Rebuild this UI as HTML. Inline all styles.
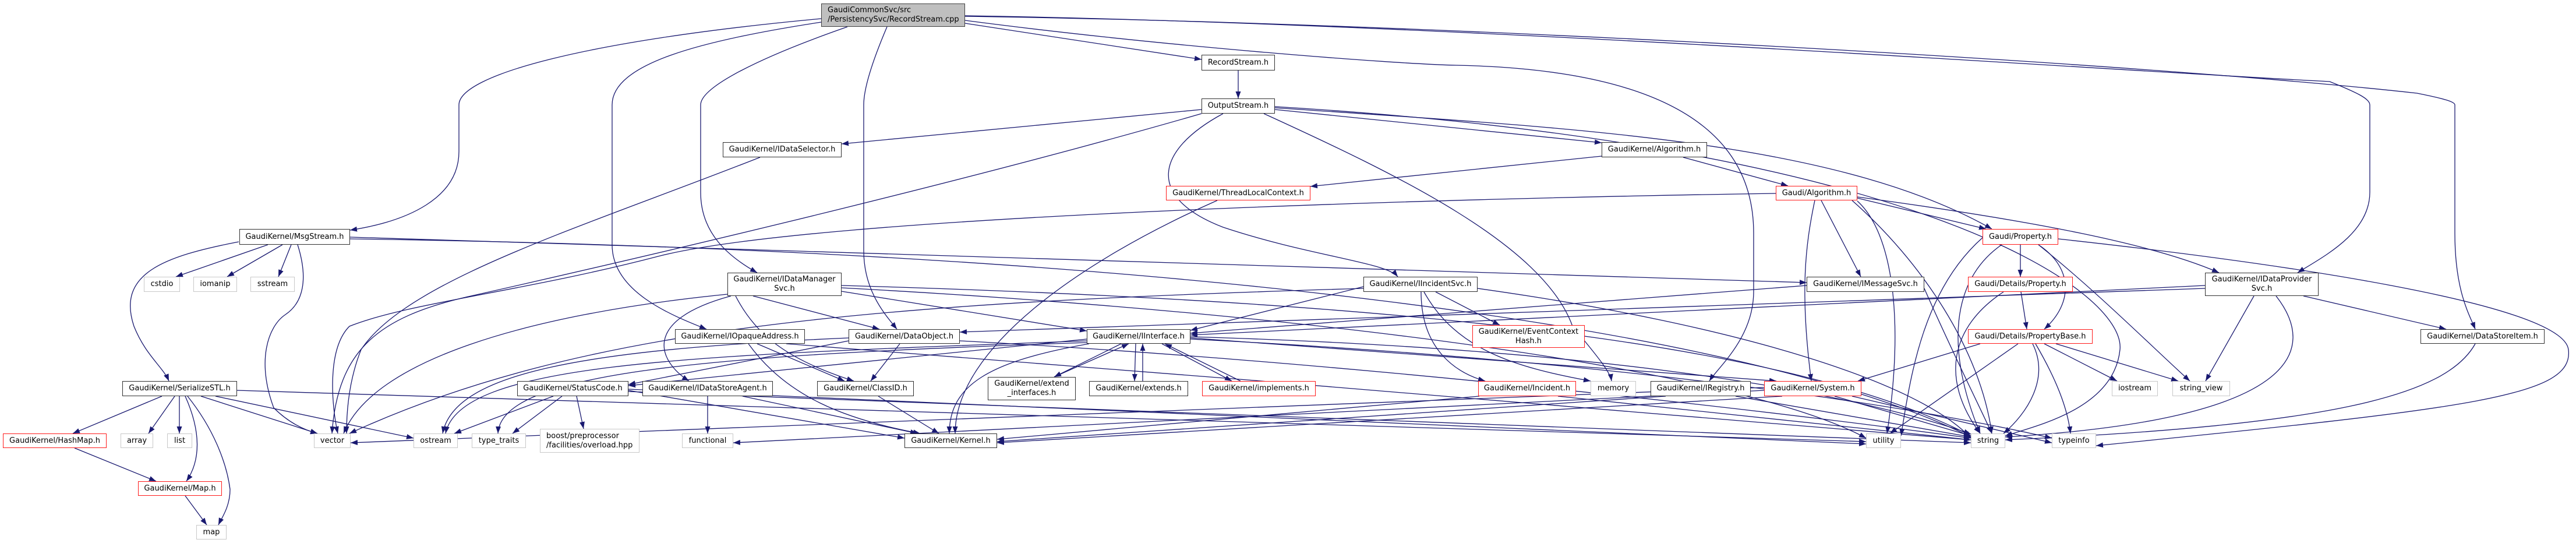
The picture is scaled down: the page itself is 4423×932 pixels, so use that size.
<!DOCTYPE html>
<html><head><meta charset="utf-8"><style>
html,body{margin:0;padding:0;background:#fff;}
#c{position:relative;width:4423px;height:932px;overflow:hidden;background:#fff;}
svg{position:absolute;left:0;top:0;}
.n{position:absolute;box-sizing:border-box;background:#fff;font-family:"DejaVu Sans","Liberation Sans",sans-serif;font-size:13px;color:#000;text-align:center;line-height:16px;display:flex;align-items:center;justify-content:center;white-space:nowrap;}
.b{border:1.5px solid #303030;}
.r{border:1.5px solid #ff1a1a;}
.g{border:1.5px solid #c8c8c8;}
.t{background:#bfbfbf;border:1.5px solid #404040;text-align:left;justify-content:flex-start;padding-left:10px;}
</style></head><body><div id="c">
<svg width="4423" height="932" viewBox="0 0 4423 932">
<defs><marker id="a" markerWidth="12" markerHeight="9" refX="12" refY="4.5" orient="auto" markerUnits="userSpaceOnUse"><path d="M0,0 L12,4.5 L0,9z" fill="#191970"/></marker></defs>
<g fill="none" stroke="#191970" stroke-width="1.3" marker-end="url(#a)">
<path d="M1657,40 L2063,102"/>
<path d="M1410,32 C1000,70 788,130 788,180 L788,260 C788,340 700,380 601,395"/>
<path d="M1410,38 C1200,70 1051,110 1051,180 L1051,420 C1051,500 1150,540 1213,565"/>
<path d="M1455,46 C1300,100 1203,150 1203,180 L1203,330 C1203,400 1250,440 1300,468"/>
<path d="M1523,46 C1500,100 1483,150 1483,180 L1483,430 C1483,500 1520,540 1540,565"/>
<path d="M1657,35 C2000,80 2400,110 2500,112 C2900,120 3011,250 3011,400 L3011,500 C3011,580 2950,630 2935,654"/>
<path d="M1657,27 C2500,40 3600,120 4000,140 C4050,160 4069,170 4069,180 L4069,330 C4069,400 3990,440 3945,468"/>
<path d="M1657,28 C2500,40 3700,110 4150,160 C4200,170 4215,175 4215,180 L4215,400 C4215,500 4240,540 4250,565"/>
<path d="M2126,121 L2126,169"/>
<path d="M2063,188 L1445,247"/>
<path d="M2063,195 C1700,300 1200,420 800,510 C650,545 580,600 570,744"/>
<path d="M2100,195 C1980,260 1970,340 2100,390 C2250,440 2380,450 2400,475"/>
<path d="M2189,188 L2750,245"/>
<path d="M2170,195 C2400,300 2650,420 2700,560 C2750,620 2765,640 2767,654"/>
<path d="M2189,185 C2700,220 3150,240 3420,393"/>
<path d="M2189,183 C3300,250 3650,500 3640,600 C3630,700 3500,730 3443,748"/>
<path d="M2750,268 L2250,320"/>
<path d="M2890,270 L3070,319"/>
<path d="M3189,340 L3410,393"/>
<path d="M3127,344 L3195,475"/>
<path d="M3116,344 C3100,420 3090,500 3110,654"/>
<path d="M3189,338 C3500,380 3700,420 3810,468"/>
<path d="M3049,332 C2500,340 1400,370 1130,440 C900,500 700,520 600,560 C560,600 570,700 580,744"/>
<path d="M3189,345 C3250,400 3270,550 3240,744"/>
<path d="M3180,344 C3300,450 3400,600 3420,744"/>
<path d="M2090,344 C1850,450 1640,600 1640,744"/>
<path d="M1305,270 C1000,390 700,480 620,600 C600,650 595,700 595,744"/>
<path d="M460,420 L302,475"/>
<path d="M485,420 L390,475"/>
<path d="M500,420 L478,475"/>
<path d="M410,415 C280,440 200,470 230,560 C250,610 280,630 290,654"/>
<path d="M511,420 C530,480 520,520 490,540 C460,560 440,620 470,700 C500,730 530,740 545,744"/>
<path d="M601,407 L3102,485"/>
<path d="M601,410 C2000,430 3000,560 3384,750"/>
<path d="M278,680 L125,744"/>
<path d="M300,680 L255,744"/>
<path d="M308,680 L308,744"/>
<path d="M318,680 C345,740 345,790 320,826"/>
<path d="M322,680 C370,740 390,800 395,840 C395,870 380,890 375,901"/>
<path d="M345,680 L545,744"/>
<path d="M370,680 L710,752"/>
<path d="M407,670 L3204,758"/>
<path d="M128,769 L268,826"/>
<path d="M318,851 L355,901"/>
<path d="M1293,508 L1510,565"/>
<path d="M1263,508 C1300,580 1360,620 1466,654"/>
<path d="M1445,500 L1866,568"/>
<path d="M1255,508 C1100,550 1130,620 1183,654"/>
<path d="M1445,490 C2500,520 3100,600 3384,748"/>
<path d="M1249,505 C900,540 640,620 590,744"/>
<path d="M1445,494 C2300,540 3000,640 3204,752"/>
<path d="M2341,492 L2044,567"/>
<path d="M2465,501 L2575,558"/>
<path d="M2440,501 C2440,600 2500,640 2550,654"/>
<path d="M2445,501 C2500,600 2600,630 2731,654"/>
<path d="M2341,495 C1500,520 1000,560 600,744"/>
<path d="M2537,495 C3000,560 3300,660 3384,752"/>
<path d="M3102,490 L2044,572"/>
<path d="M3304,495 C3350,600 3400,700 3420,744"/>
<path d="M3469,420 L3469,475"/>
<path d="M3500,420 C3560,460 3560,520 3510,565"/>
<path d="M3500,420 C3600,500 3700,600 3760,654"/>
<path d="M3437,420 C3350,480 3340,600 3400,744"/>
<path d="M3534,410 C3900,450 4400,520 4410,600 C4420,680 4250,700 3599,765"/>
<path d="M3404,408 C3300,500 3280,650 3264,748"/>
<path d="M3470,501 L3480,565"/>
<path d="M3440,501 C3350,560 3330,650 3400,744"/>
<path d="M3510,590 L3635,654"/>
<path d="M3530,590 L3740,654"/>
<path d="M3490,590 C3520,650 3480,710 3440,744"/>
<path d="M3495,590 C3530,650 3550,700 3555,744"/>
<path d="M3400,590 L3190,654"/>
<path d="M3465,590 L3245,744"/>
<path d="M3786,495 L1648,570"/>
<path d="M3786,490 L2044,575"/>
<path d="M3870,508 L3787,654"/>
<path d="M3908,508 C3980,600 3950,720 3443,750"/>
<path d="M3955,508 L4200,565"/>
<path d="M4250,590 C4200,680 4000,730 3443,755"/>
<path d="M1300,590 L1450,654"/>
<path d="M1285,590 C1350,680 1450,720 1580,744"/>
<path d="M1350,590 C2000,640 3000,720 3384,755"/>
<path d="M1545,590 L1495,654"/>
<path d="M1457,585 L1079,660"/>
<path d="M1648,585 C2300,620 3000,700 3384,752"/>
<path d="M1457,580 C1000,600 780,640 760,744"/>
<path d="M1866,582 L1079,662"/>
<path d="M1870,590 C1700,620 1630,660 1630,744"/>
<path d="M1925,590 L1810,647"/>
<path d="M1950,590 L1948,654"/>
<path d="M1995,590 L2115,654"/>
<path d="M1810,647 L1938,590"/>
<path d="M1962,654 L1962,590"/>
<path d="M2130,654 L2000,590"/>
<path d="M1866,585 C1200,610 790,620 765,744"/>
<path d="M1866,588 C1200,610 860,640 855,744"/>
<path d="M2044,582 C2800,620 3300,700 3523,752"/>
<path d="M2044,578 C2800,600 3200,680 3384,745"/>
<path d="M2044,580 L3050,654"/>
<path d="M950,680 L780,744"/>
<path d="M965,680 L880,744"/>
<path d="M990,680 L1002,736"/>
<path d="M1079,670 L1553,752"/>
<path d="M1079,668 L3204,762"/>
<path d="M1079,672 L3384,760"/>
<path d="M1215,680 L1215,744"/>
<path d="M1275,680 L1575,744"/>
<path d="M1508,680 L1612,744"/>
<path d="M2540,680 L1712,754"/>
<path d="M2675,680 L3384,755"/>
<path d="M2860,680 L1712,758"/>
<path d="M2980,680 L3384,750"/>
<path d="M3060,680 L1712,760"/>
<path d="M3150,680 L3384,748"/>
<path d="M3180,680 L3523,760"/>
<path d="M3029,670 L1259,760"/>
<path d="M3029,665 L602,760"/>
</g></svg>

<div class="n t" style="left:1410px;top:6px;width:247px;height:40px;">GaudiCommonSvc/src<br>/PersistencySvc/RecordStream.cpp</div>
<div class="n b" style="left:2063px;top:94px;width:126px;height:27px;">RecordStream.h</div>
<div class="n b" style="left:2063px;top:169px;width:126px;height:26px;">OutputStream.h</div>
<div class="n b" style="left:1241px;top:244px;width:204px;height:26px;">GaudiKernel/IDataSelector.h</div>
<div class="n b" style="left:2750px;top:244px;width:181px;height:26px;">GaudiKernel/Algorithm.h</div>
<div class="n r" style="left:2002px;top:319px;width:248px;height:25px;">GaudiKernel/ThreadLocalContext.h</div>
<div class="n r" style="left:3049px;top:319px;width:140px;height:25px;">Gaudi/Algorithm.h</div>
<div class="n b" style="left:411px;top:393px;width:190px;height:27px;">GaudiKernel/MsgStream.h</div>
<div class="n r" style="left:3404px;top:393px;width:130px;height:27px;">Gaudi/Property.h</div>
<div class="n b" style="left:1249px;top:468px;width:196px;height:40px;">GaudiKernel/IDataManager<br>Svc.h</div>
<div class="n b" style="left:2341px;top:475px;width:196px;height:26px;">GaudiKernel/IIncidentSvc.h</div>
<div class="n b" style="left:3102px;top:475px;width:202px;height:26px;">GaudiKernel/IMessageSvc.h</div>
<div class="n r" style="left:3379px;top:475px;width:180px;height:26px;">Gaudi/Details/Property.h</div>
<div class="n b" style="left:3786px;top:468px;width:195px;height:40px;">GaudiKernel/IDataProvider<br>Svc.h</div>
<div class="n g" style="left:247px;top:475px;width:62px;height:26px;">cstdio</div>
<div class="n g" style="left:332px;top:475px;width:75px;height:26px;">iomanip</div>
<div class="n g" style="left:430px;top:475px;width:76px;height:26px;">sstream</div>
<div class="n b" style="left:1159px;top:565px;width:223px;height:25px;">GaudiKernel/IOpaqueAddress.h</div>
<div class="n b" style="left:1457px;top:565px;width:191px;height:25px;">GaudiKernel/DataObject.h</div>
<div class="n b" style="left:1866px;top:565px;width:178px;height:25px;">GaudiKernel/IInterface.h</div>
<div class="n r" style="left:2528px;top:558px;width:193px;height:39px;">GaudiKernel/EventContext<br>Hash.h</div>
<div class="n r" style="left:3379px;top:565px;width:214px;height:25px;">Gaudi/Details/PropertyBase.h</div>
<div class="n b" style="left:4156px;top:565px;width:213px;height:25px;">GaudiKernel/DataStoreItem.h</div>
<div class="n b" style="left:210px;top:654px;width:197px;height:26px;">GaudiKernel/SerializeSTL.h</div>
<div class="n b" style="left:888px;top:654px;width:191px;height:26px;">GaudiKernel/StatusCode.h</div>
<div class="n b" style="left:1103px;top:654px;width:224px;height:26px;">GaudiKernel/IDataStoreAgent.h</div>
<div class="n b" style="left:1403px;top:654px;width:166px;height:26px;">GaudiKernel/ClassID.h</div>
<div class="n b" style="left:1696px;top:647px;width:151px;height:40px;">GaudiKernel/extend<br>_interfaces.h</div>
<div class="n b" style="left:1870px;top:654px;width:170px;height:26px;">GaudiKernel/extends.h</div>
<div class="n r" style="left:2064px;top:654px;width:195px;height:26px;">GaudiKernel/implements.h</div>
<div class="n r" style="left:2538px;top:654px;width:168px;height:26px;">GaudiKernel/Incident.h</div>
<div class="n g" style="left:2731px;top:654px;width:78px;height:26px;">memory</div>
<div class="n b" style="left:2834px;top:654px;width:172px;height:26px;">GaudiKernel/IRegistry.h</div>
<div class="n r" style="left:3029px;top:654px;width:167px;height:26px;">GaudiKernel/System.h</div>
<div class="n g" style="left:3626px;top:654px;width:79px;height:26px;">iostream</div>
<div class="n g" style="left:3730px;top:654px;width:99px;height:26px;">string_view</div>
<div class="n r" style="left:5px;top:744px;width:178px;height:25px;">GaudiKernel/HashMap.h</div>
<div class="n g" style="left:207px;top:744px;width:56px;height:25px;">array</div>
<div class="n g" style="left:287px;top:744px;width:43px;height:25px;">list</div>
<div class="n g" style="left:539px;top:744px;width:63px;height:25px;">vector</div>
<div class="n g" style="left:710px;top:744px;width:76px;height:25px;">ostream</div>
<div class="n g" style="left:810px;top:744px;width:93px;height:25px;">type_traits</div>
<div class="n g" style="left:927px;top:736px;width:171px;height:41px;text-align:left;justify-content:flex-start;padding-left:10px;">boost/preprocessor<br>/facilities/overload.hpp</div>
<div class="n g" style="left:1171px;top:744px;width:88px;height:25px;">functional</div>
<div class="n b" style="left:1553px;top:744px;width:159px;height:25px;">GaudiKernel/Kernel.h</div>
<div class="n g" style="left:3204px;top:744px;width:60px;height:25px;">utility</div>
<div class="n g" style="left:3384px;top:744px;width:59px;height:25px;">string</div>
<div class="n g" style="left:3523px;top:744px;width:76px;height:25px;">typeinfo</div>
<div class="n r" style="left:237px;top:826px;width:144px;height:25px;">GaudiKernel/Map.h</div>
<div class="n g" style="left:337px;top:901px;width:52px;height:25px;">map</div>
</div></body></html>
